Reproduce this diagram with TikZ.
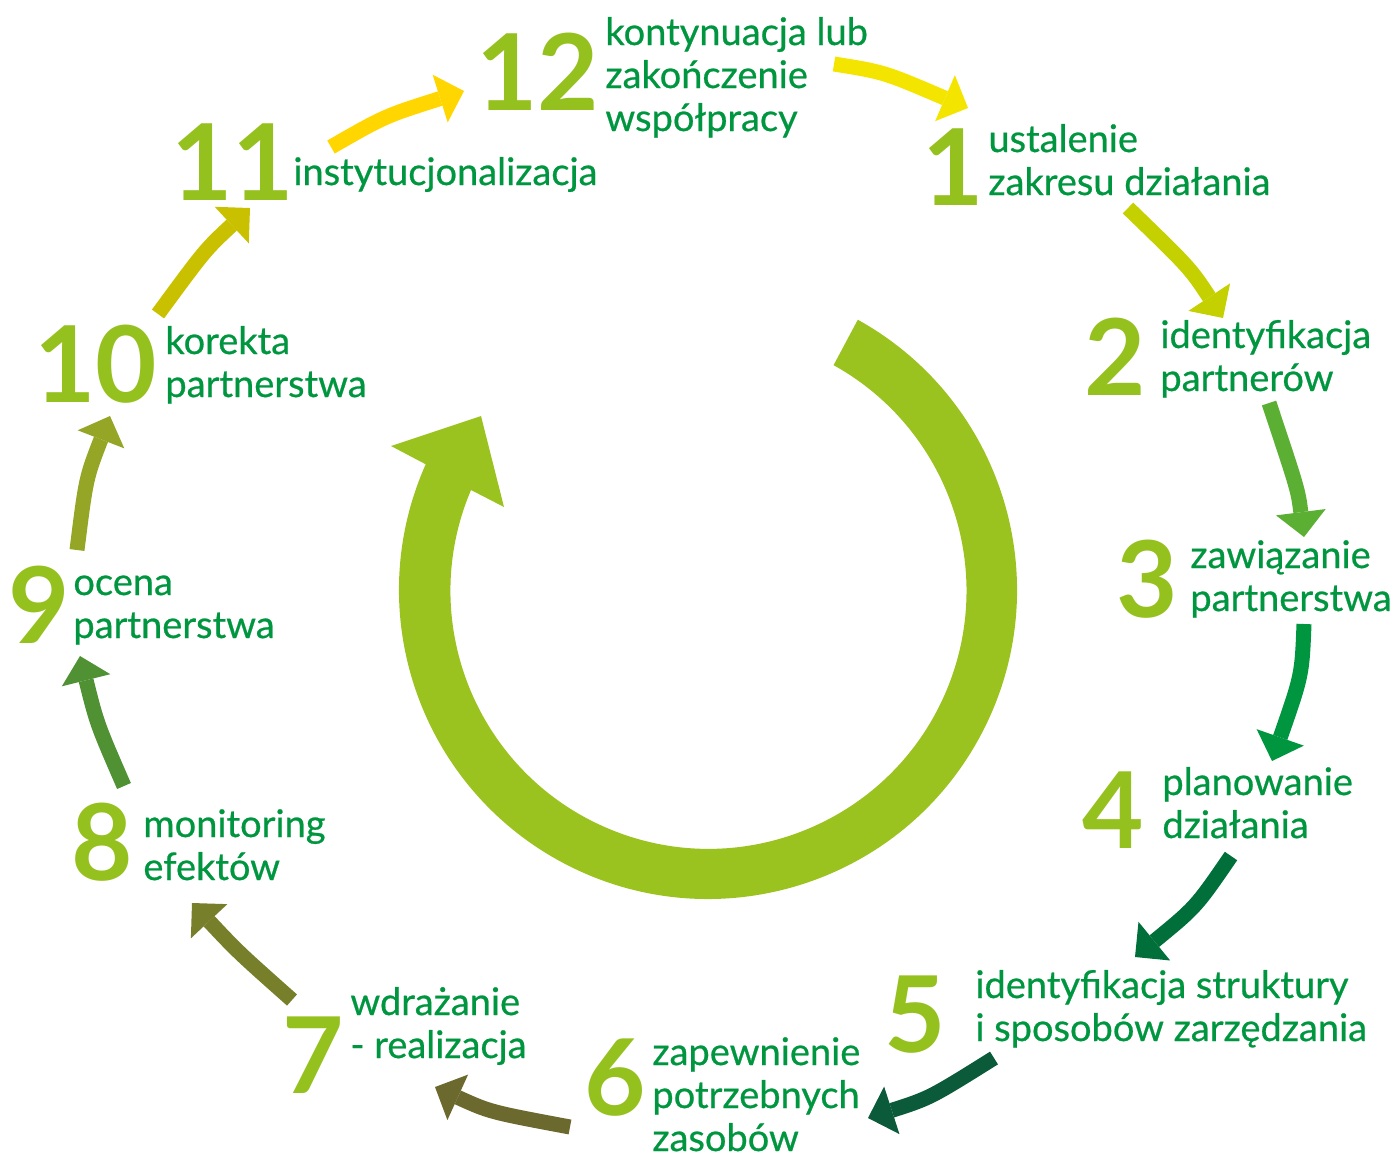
\documentclass[tikz,border=0pt]{standalone}
\usepackage{fontspec}
\setmainfont{Lato}
\newfontfamily\labelfont{Lato}[FakeBold=0.6]
\usetikzlibrary{arrows.meta}

\definecolor{txtgreen}{HTML}{00963F}
\definecolor{numgreen}{HTML}{95C11F}
\definecolor{ringgreen}{HTML}{9BC31F}
\definecolor{cA}{HTML}{F3E500}
\definecolor{cB}{HTML}{C4D000}
\definecolor{cC}{HTML}{5BAF33}
\definecolor{cD}{HTML}{009640}
\definecolor{cE}{HTML}{006F3A}
\definecolor{cF}{HTML}{0B5B3A}
\definecolor{cG}{HTML}{6B692D}
\definecolor{cH}{HTML}{787F2A}
\definecolor{cI}{HTML}{4F9133}
\definecolor{cJ}{HTML}{95A627}
\definecolor{cK}{HTML}{C9C100}
\definecolor{cL}{HTML}{FFD600}

% multi-line label whose baseline is the first line
\newcommand{\lbltext}[1]{\begin{tabular}[t]{@{}l@{}}#1\end{tabular}}

\tikzset{
  num/.style={anchor=base west, inner sep=0pt, text=numgreen,
              font=\fontsize{53}{53}\selectfont\bfseries},
  lbl/.style={anchor=base west, inner sep=0pt, text=txtgreen,
              font=\labelfont\fontsize{19}{21.5}\selectfont},
  flow/.style={line width=7.5pt,
               -{Triangle[width=25pt,length=12.5pt,line width=0pt]}},
}

\begin{document}
\begin{tikzpicture}[x=0.5pt,y=-0.5pt]
\useasboundingbox (0,0) rectangle (1392,1153);

% central cycle arrow
\fill[ringgreen] (857.8,319.7) arc[start angle=-61, end angle=204, radius=309]
  -- (391,446) -- (481,416) -- (504,507) -- (471,490)
  arc[start angle=203, end angle=-61, radius=258] -- cycle;

% step numbers
\node[num] (n12) at (476,110) {12};
\node[num] (n1)  at (922,205) {1};
\node[num] (n2)  at (1084,395) {2};
\node[num] (n3)  at (1116,617) {3};
\node[num] (n4)  at (1082,848) {4};
\node[num] (n5)  at (884,1052) {5};
\node[num] (n6)  at (584,1115) {6};
\node[num] (n7)  at (282,1093) {7};
\node[num] (n8)  at (71,880) {8};
\node[num] (n9)  at (8,643) {9};
\node[num] (n10) at (34,402) {10};
\node[num] (n11) at (171,200) {11};

% step descriptions
\node[lbl] (t12) at (605,45)  {\lbltext{kontynuacja lub\\zakończenie\\współpracy}};
\node[lbl] (t1)  at (988,152) {\lbltext{ustalenie\\zakresu działania}};
\node[lbl] (t2)  at (1160,348) {\lbltext{identyfikacja\\partnerów}};
\node[lbl] (t3)  at (1190,568) {\lbltext{zawiązanie\\partnerstwa}};
\node[lbl] (t4)  at (1162,795) {\lbltext{planowanie\\działania}};
\node[lbl] (t5)  at (975,998) {\lbltext{identyfikacja struktury\\i sposobów zarzędzania}};
\node[lbl] (t6)  at (652,1065) {\lbltext{zapewnienie\\potrzebnych\\zasobów}};
\node[lbl] (t7)  at (350,1015) {\lbltext{wdrażanie\\- realizacja}};
\node[lbl] (t8)  at (143,837) {\lbltext{monitoring\\efektów}};
\node[lbl] (t9)  at (73,595) {\lbltext{ocena\\partnerstwa}};
\node[lbl] (t10) at (165,354) {\lbltext{korekta\\partnerstwa}};
\node[lbl] (t11) at (293,185) {\lbltext{instytucjonalizacja}};

% arrow end points
\coordinate (a1s) at (834,64);    \coordinate (a1e) at (968,108);
\coordinate (a2s) at (1128,208);  \coordinate (a2e) at (1223,318);
\coordinate (a3s) at (1269,403);  \coordinate (a3e) at (1304,537);
\coordinate (a4s) at (1304,624);  \coordinate (a4e) at (1272,761);
\coordinate (a5s) at (1231,856);  \coordinate (a5e) at (1135,957);
\coordinate (a6s) at (994,1058);  \coordinate (a6e) at (868,1118);
\coordinate (a7s) at (570,1127);  \coordinate (a7e) at (435,1087);
\coordinate (a8s) at (292,1000);  \coordinate (a8e) at (192,903);
\coordinate (a9s) at (124,786);   \coordinate (a9e) at (80,656);
\coordinate (a10s) at (77,550);   \coordinate (a10e) at (110,416);
\coordinate (a11s) at (158,314);  \coordinate (a11e) at (250,208);
\coordinate (a12s) at (331,147);  \coordinate (a12e) at (464,91);

% step-to-step arrows
\draw[flow,cA] (a1s) .. controls (884,72) .. (a1e);
\draw[flow,cB] (a2s) .. controls (1190,268) .. (a2e);
\draw[flow,cC] (a3s) .. controls (1298,490) .. (a3e);
\draw[flow,cD] (a4s) .. controls (1302,675) .. (a4e);
\draw[flow,cE] (a5s) .. controls (1196,907) .. (a5e);
\draw[flow,cF] (a6s) .. controls (930,1098) .. (a6e);
\draw[flow,cG] (a7s) .. controls (490,1112) .. (a7e);
\draw[flow,cH] (a8s) .. controls (238,952) .. (a8e);
\draw[flow,cI] (a9s) .. controls (97,724) .. (a9e);
\draw[flow,cJ] (a10s) .. controls (86,478) .. (a10e);
\draw[flow,cK] (a11s) .. controls (205,250) .. (a11e);
\draw[flow,cL] (a12s) .. controls (385,116) .. (a12e);
\end{tikzpicture}
\end{document}
